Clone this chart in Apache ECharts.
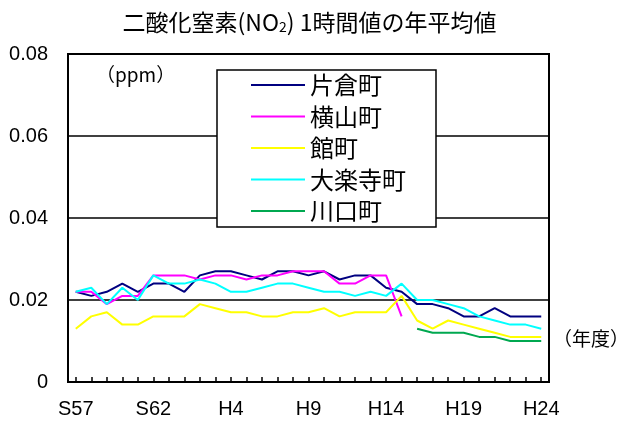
<!DOCTYPE html>
<html><head><meta charset="utf-8">
<script src="https://cdn.jsdelivr.net/npm/echarts@6/dist/echarts.min.js"></script>
<style>html,body{margin:0;padding:0;background:#fff}#c{width:619px;height:424px}</style>
</head><body><div id="c"></div>
<script>
var years = ['S57','S58','S59','S60','S61','S62','S63','H1','H2','H3','H4','H5','H6','H7','H8','H9','H10','H11','H12','H13','H14','H15','H16','H17','H18','H19','H20','H21','H22','H23','H24'];
var katakura = [0.022,0.021,0.022,0.024,0.022,0.024,0.024,0.022,0.026,0.027,0.027,0.026,0.025,0.027,0.027,0.026,0.027,0.025,0.026,0.026,0.023,0.022,0.019,0.019,0.018,0.016,0.016,0.018,0.016,0.016,0.016];
var yokoyama = [0.022,0.022,0.019,0.021,0.021,0.026,0.026,0.026,0.025,0.026,0.026,0.025,0.026,0.026,0.027,0.027,0.027,0.024,0.024,0.026,0.026,0.016,null,null,null,null,null,null,null,null,null];
var tatemachi = [0.013,0.016,0.017,0.014,0.014,0.016,0.016,0.016,0.019,0.018,0.017,0.017,0.016,0.016,0.017,0.017,0.018,0.016,0.017,0.017,0.017,0.021,0.015,0.013,0.015,0.014,0.013,0.012,0.011,0.011,0.011];
var dairakuji = [0.022,0.023,0.019,0.023,0.020,0.026,0.024,0.024,0.025,0.024,0.022,0.022,0.023,0.024,0.024,0.023,0.022,0.022,0.021,0.022,0.021,0.024,0.020,0.020,0.019,0.018,0.016,0.015,0.014,0.014,0.013];
var kawaguchi = [null,null,null,null,null,null,null,null,null,null,null,null,null,null,null,null,null,null,null,null,null,null,0.013,0.012,0.012,0.012,0.011,0.011,0.010,0.010,0.010];
var seriesNames = ['片倉町','横山町','館町','大楽寺町','川口町'];
var seriesColors = ['#000080','#FF00FF','#FFFF00','#00FFFF','#00A850'];
var seriesData = [katakura, yokoyama, tatemachi, dairakuji, kawaguchi];

var jp = '"Noto Sans CJK JP", sans-serif';
var num = '"Liberation Sans", Arial, sans-serif';
var chart = echarts.init(document.getElementById('c'), null, {renderer:'canvas'});
chart.setOption({
  animation: false,
  backgroundColor: '#fff',
  title: {
    text: '{a|二酸化窒素(NO}{s|2}{a|) 1時間値の年平均値}',
    left: 'center', top: 5,
    textStyle: {
      rich: {
        a: {fontFamily: jp, fontSize: 23, fontWeight: 'normal', color: '#000'},
        s: {fontFamily: jp, fontSize: 14, fontWeight: 'normal', color: '#000', padding: [10,0,0,0]}
      }
    }
  },
  grid: {left: 68, right: 70, top: 54, bottom: 42, show: true, borderColor: '#000', borderWidth: 2, backgroundColor: 'transparent'},
  xAxis: {
    type: 'category', data: years, boundaryGap: true,
    axisLine: {lineStyle: {color: '#000', width: 2}},
    axisTick: {show: true, inside: true, alignWithLabel: true, interval: 0, length: 5, lineStyle: {color: '#000', width: 1.5}},
    axisLabel: {interval: 4, color: '#000', fontFamily: num, fontSize: 20, margin: 17}
  },
  yAxis: {
    type: 'value', min: 0, max: 0.08, interval: 0.02,
    axisLine: {show: true, lineStyle: {color: '#000', width: 2}},
    axisTick: {show: false},
    axisLabel: {color: '#000', fontFamily: num, fontSize: 20, margin: 20,
      formatter: function(v){ return v === 0 ? '0' : v.toFixed(2); }},
    splitLine: {show: true, lineStyle: {color: '#000', width: 1.5}}
  },
  legend: {
    orient: 'vertical', left: 246, top: 68,
    data: seriesNames,
    icon: 'rect',
    itemWidth: 54, itemHeight: 2, itemGap: 7.5,
    textStyle: {fontFamily: jp, fontSize: 24, color: '#000', lineHeight: 24},
    z: 200
  },
  graphic: [
    {type: 'rect', z: 100, shape: {x: 217, y: 70, width: 219, height: 157}, style: {fill: '#fff', stroke: '#000', lineWidth: 1.5}},
    {type: 'text', z: 100, left: 96, top: 65, style: {text: '（ppm）', font: '19px "Noto Sans CJK JP", sans-serif', fill: '#000'}},
    {type: 'text', z: 100, left: 553, top: 329, style: {text: '（年度）', font: '19px "Noto Sans CJK JP", sans-serif', fill: '#000'}}
  ],
  series: seriesNames.map(function(n, i){
    return {
      name: n, type: 'line', data: seriesData[i],
      symbol: 'none', showSymbol: false, connectNulls: false,
      lineStyle: {color: seriesColors[i], width: 2},
      itemStyle: {color: seriesColors[i]},
      z: 50
    };
  })
});
</script></body></html>
